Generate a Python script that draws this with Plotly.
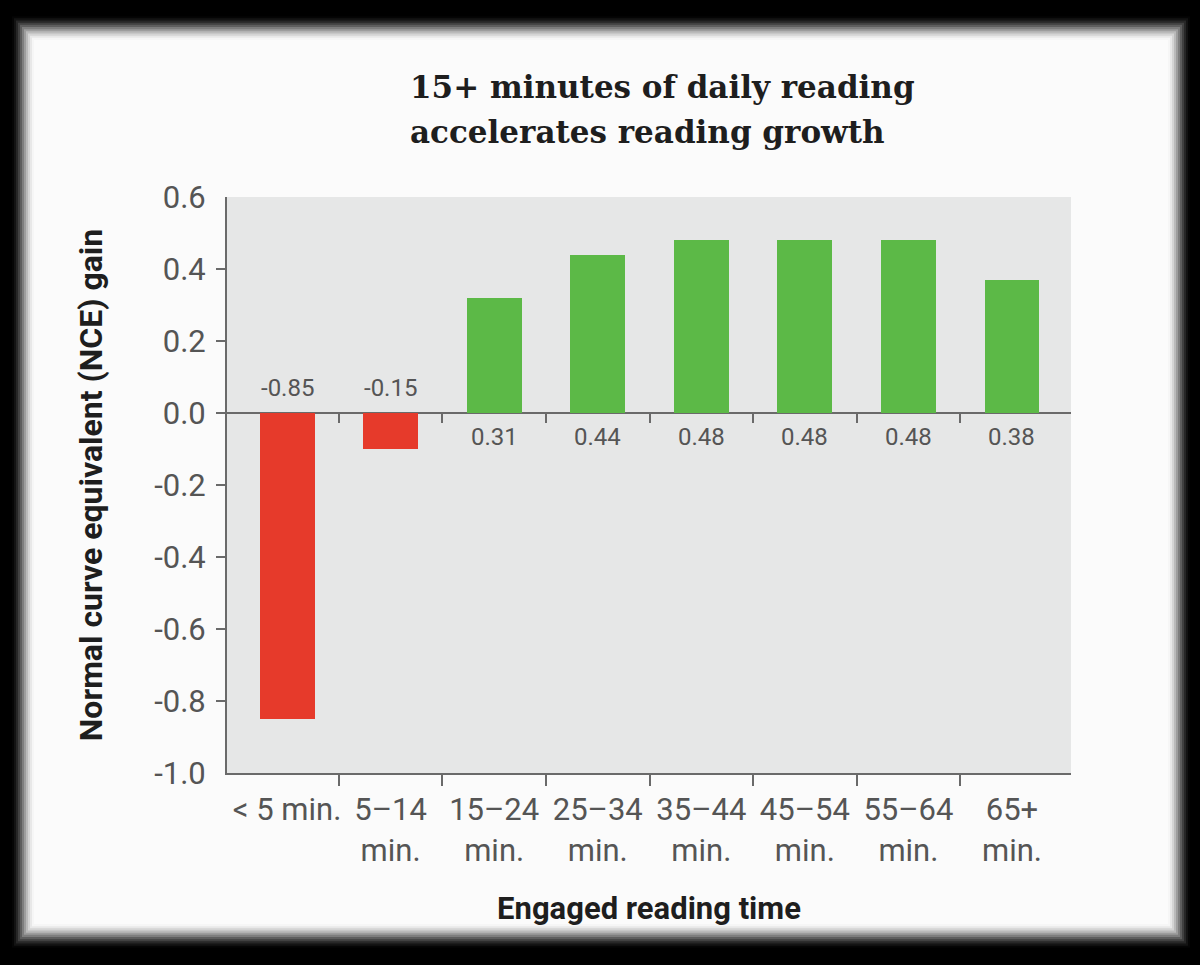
import plotly.graph_objects as go

# ---- data ----
categories = ["< 5 min.", "5\u201314<br>min.", "15\u201324<br>min.", "25\u201334<br>min.",
              "35\u201344<br>min.", "45\u201354<br>min.", "55\u201364<br>min.", "65+<br>min."]
bar_values = [-0.85, -0.10, 0.32, 0.44, 0.48, 0.48, 0.48, 0.37]
value_labels = ["-0.85", "-0.15", "0.31", "0.44", "0.48", "0.48", "0.48", "0.38"]
y_ticks = [-1.0, -0.8, -0.6, -0.4, -0.2, 0.0, 0.2, 0.4, 0.6]
y_tick_labels = ["-1.0", "-0.8", "-0.6", "-0.4", "-0.2", "0.0", "0.2", "0.4", "0.6"]
title_lines = ["15+ minutes of daily reading", "accelerates reading growth"]

W, H = 1200, 965
L, R, T, B = 227, 129, 197, 192
PW, PH = W - L - R, H - T - B

RED = "#e63a2b"
GREEN = "#5cb947"
AXIS = "#6a6a6a"
TXT = "#555555"
PLOTBG = "#e6e7e7"

x_pos = list(range(len(categories)))
xr = [-0.58, len(categories) - 1 + 0.57]
yr = [-1.0, 0.6]
boundaries = [i + 0.5 for i in range(len(categories) - 1)]
inner_yticks = y_ticks[1:-1]

colors = [RED if v < 0 else GREEN for v in bar_values]

fig = go.Figure()
fig.add_trace(go.Bar(x=x_pos, y=bar_values, marker=dict(color=colors, line=dict(width=0)),
                     width=0.53, showlegend=False, hoverinfo="skip"))
fig.add_trace(go.Scatter(x=[], y=[], xaxis="x2", showlegend=False))
fig.add_trace(go.Scatter(x=[], y=[], xaxis="x3", showlegend=False))
fig.add_trace(go.Scatter(x=[], y=[], yaxis="y2", showlegend=False))

# value labels
for xi, v, lab in zip(x_pos, bar_values, value_labels):
    fig.add_annotation(x=xi, y=0, text=lab, showarrow=False,
                       yshift=(25 if v < 0 else -24),
                       font=dict(family="Roboto", size=24, color=TXT))

def px_x(px):
    return (px - L) / PW

def px_y(py):
    return (T + PH - py) / PH

# title (two lines, left-aligned)
for line, cy in zip(title_lines, [87, 132]):
    fig.add_annotation(xref="paper", yref="paper", x=px_x(408), y=px_y(cy),
                       xanchor="left", yanchor="middle", text=line, showarrow=False,
                       font=dict(family="DejaVu Serif", size=31, color="#1e1e1e", weight="bold"))

# frame: black background with blurred white panel
shapes = []
outer = (10, 14, 1192, 950)
inner = (34, 40, 1168, 924)
n = 12
for k in range(n + 1):
    t = k / n
    x0 = outer[0] + (inner[0] - outer[0]) * t
    y0 = outer[1] + (inner[1] - outer[1]) * t
    x1 = outer[2] + (inner[2] - outer[2]) * t
    y1 = outer[3] + (inner[3] - outer[3]) * t
    s = t * t * (3 - 2 * t)
    g = int(round(251 * s))
    shapes.append(dict(type="rect", xref="paper", yref="paper", layer="below",
                       x0=px_x(x0), x1=px_x(x1), y0=px_y(y1), y1=px_y(y0),
                       line=dict(width=0), fillcolor=f"rgb({g},{g},{g})"))
# plot area background
shapes.append(dict(type="rect", xref="paper", yref="paper", layer="below",
                   x0=0, x1=1, y0=0, y1=1, line=dict(width=0), fillcolor=PLOTBG))
fig.update_layout(shapes=shapes)

fig.update_layout(
    width=W, height=H,
    margin=dict(l=L, r=R, t=T, b=B, pad=0),
    paper_bgcolor="#000000",
    plot_bgcolor=PLOTBG,
    bargap=0,
    xaxis=dict(range=xr, tickvals=x_pos, ticktext=categories, ticks="",
               showline=True, linecolor=AXIS, linewidth=2, showgrid=False, zeroline=False,
               tickfont=dict(family="Roboto", size=31, color=TXT), ticklabelstandoff=8,
               title=dict(text="Engaged reading time", standoff=30,
                          font=dict(family="Roboto", size=31, color="#1e1e1e", weight="bold"))),
    xaxis2=dict(range=xr, overlaying="x", anchor="y", side="bottom", tickvals=boundaries,
                ticks="outside", ticklen=12, tickwidth=2, tickcolor=AXIS,
                showticklabels=False, showline=False, showgrid=False, zeroline=False),
    xaxis3=dict(range=xr, overlaying="x", anchor="free",
                position=(0 - yr[0]) / (yr[1] - yr[0]), side="bottom",
                tickvals=boundaries, ticks="outside", ticklen=9, tickwidth=2, tickcolor=AXIS,
                showticklabels=False, showline=False, showgrid=False, zeroline=False),
    yaxis=dict(range=yr, tickvals=y_ticks, ticktext=y_tick_labels,
               ticks="", ticklabelstandoff=13,
               showline=True, linecolor=AXIS, linewidth=2, showgrid=False,
               zeroline=True, zerolinecolor=AXIS, zerolinewidth=2,
               tickfont=dict(family="Roboto", size=31, color=TXT),
               title=dict(text="Normal curve equivalent (NCE) gain", standoff=42,
                          font=dict(family="Roboto", size=32, color="#1e1e1e", weight="bold"))),
    yaxis2=dict(range=yr, overlaying="y", anchor="x", side="left", tickvals=inner_yticks,
                ticks="outside", ticklen=10, tickwidth=2, tickcolor=AXIS,
                showticklabels=False, showline=False, showgrid=False, zeroline=False),
)

fig.write_html("out.html")
